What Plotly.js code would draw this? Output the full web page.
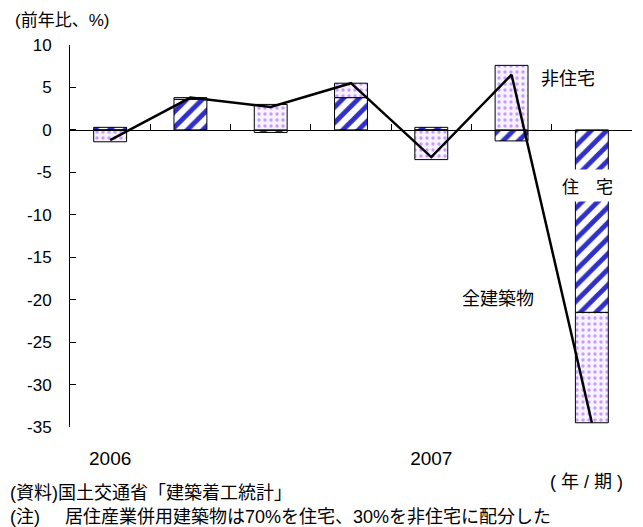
<!DOCTYPE html>
<html>
<head>
<meta charset="utf-8">
<script src="https://cdn.plot.ly/plotly-3.0.1.min.js"></script>
<style>
  html, body { margin: 0; padding: 0; background: #fff; }
  #chart { width: 643px; height: 527px; }
</style>
</head>
<body>
<div id="chart"></div>
<script>
// Quarterly periods (year / quarter)
const periods = ['2006年1期', '2006年2期', '2006年3期', '2006年4期', '2007年1期', '2007年2期', '2007年3期'];

// Contribution to year-on-year change (%), by building type
const housing    = [0.3, 3.6, -0.3, 3.8, 0.3, -1.3, -21.5];
const nonHousing = [-1.4, 0.2, 3.0, 1.7, -3.5, 7.6, -13.0];
// All buildings, year-on-year change (%)
const allBuildings = [-1.2, 3.8, 2.7, 5.5, -3.2, 6.5, -34.5];

// Axis labels
const yTickVals = [10, 5, 0, -5, -10, -15, -20, -25, -30, -35];
const yTickText = ['10', '5', '0', '-5', '-10', '-15', '-20', '-25', '-30', '-35'];
const yearTickVals = [periods[0], periods[4]];
const yearTickText = ['2006', '2007'];

const FONT = 'Liberation Sans, Arial, Noto Sans CJK JP, sans-serif';
const yMin = -35, yMax = 10;
const NB = '\u00a0';

const traces = [
  {
    type: 'bar', name: '住宅', x: periods, y: housing,
    xaxis: 'x', yaxis: 'y',
    marker: {
      color: '#ffffff',
      line: { color: '#000000', width: 1 },
      pattern: { shape: '/', fgcolor: '#3030c8', bgcolor: '#ffffff', size: 11, solidity: 0.45 }
    },
    hoverinfo: 'skip'
  },
  {
    type: 'bar', name: '非住宅', x: periods, y: nonHousing,
    xaxis: 'x', yaxis: 'y',
    marker: {
      color: '#f7f2ff',
      line: { color: '#000000', width: 1 },
      pattern: { shape: '.', fgcolor: '#c79cff', bgcolor: '#f7f2ff', size: 6, solidity: 0.25 }
    },
    hoverinfo: 'skip'
  },
  {
    type: 'scatter', mode: 'lines', name: '全建築物', x: periods, y: allBuildings,
    xaxis: 'x2', yaxis: 'y',
    line: { color: '#000000', width: 2.5 },
    hoverinfo: 'skip'
  }
];

const layout = {
  width: 643, height: 527,
  margin: { l: 70, r: 11, t: 45, b: 100 },
  paper_bgcolor: '#ffffff', plot_bgcolor: '#ffffff',
  showlegend: false,
  barmode: 'relative',
  bargap: 0.59,
  font: { family: FONT, size: 16, color: '#000000' },
  xaxis: {
    type: 'category', categoryarray: periods, categoryorder: 'array',
    range: [-0.5, periods.length - 0.5],
    showline: false, showgrid: false, zeroline: false,
    tickmode: 'array', tickvals: yearTickVals, ticktext: yearTickText,
    ticks: 'outside', ticklen: 14, tickcolor: 'rgba(0,0,0,0)',
    tickfont: { family: FONT, size: 19, color: '#000000' }
  },
  // axis line drawn along y = 0 with ticks on the quarter boundaries
  xaxis2: {
    type: 'category', categoryarray: periods, categoryorder: 'array',
    overlaying: 'x', anchor: 'free',
    position: (0 - yMin) / (yMax - yMin),
    range: [-0.5, periods.length - 0.5],
    showline: true, linecolor: '#000000', linewidth: 1,
    showgrid: false, zeroline: false,
    tickmode: 'linear', tick0: 0, dtick: 1,
    tickson: 'boundaries', ticks: 'inside', ticklen: 6, tickcolor: '#000000', tickwidth: 1,
    showticklabels: false
  },
  yaxis: {
    range: [yMin, yMax],
    showline: true, linecolor: '#000000', linewidth: 1,
    showgrid: false, zeroline: false,
    tickmode: 'array', tickvals: yTickVals, ticktext: yTickText,
    ticks: 'inside', ticklen: 6, tickcolor: '#000000', tickwidth: 1,
    ticklabelstandoff: 14,
    tickfont: { family: FONT, size: 17, color: '#000000' }
  },
  annotations: [
    { text: '非住宅', xref: 'x', yref: 'y', x: periods[6], y: 6.25, xshift: -24,
      showarrow: false, font: { family: 'Noto Sans CJK JP', size: 18, color: '#000' } },
    { text: '住　宅', xref: 'x', yref: 'y', x: periods[6], y: -6.5, xshift: -4,
      showarrow: false, bgcolor: '#ffffff', borderpad: 3,
      font: { family: 'Noto Sans CJK JP', size: 17, color: '#000' } },
    { text: '全建築物', xref: 'x', yref: 'y', x: periods[5], y: -19.7, xshift: -14,
      showarrow: false, font: { family: 'Noto Sans CJK JP', size: 18, color: '#000' } },
    { text: '(前年比、%)', xref: 'paper', yref: 'paper', x: -0.102, y: 1.065,
      xanchor: 'left', yanchor: 'middle', showarrow: false,
      font: { family: FONT, size: 17, color: '#000' } },
    { text: '(' + NB + '年' + NB + '/' + NB + '期' + NB + ')', xref: 'paper', yref: 'paper', x: 0.988, y: -0.144,
      xanchor: 'right', yanchor: 'middle', showarrow: false,
      font: { family: FONT, size: 18, color: '#000' } },
    { text: '(資料)国土交通省「建築着工統計」', xref: 'paper', yref: 'paper', x: -0.11, y: -0.174,
      xanchor: 'left', yanchor: 'middle', showarrow: false,
      font: { family: FONT, size: 18, color: '#000' } },
    { text: '(注)' + NB.repeat(5) + '居住産業併用建築物は70%を住宅、30%を非住宅に配分した', xref: 'paper', yref: 'paper', x: -0.11, y: -0.236,
      xanchor: 'left', yanchor: 'middle', showarrow: false,
      font: { family: FONT, size: 18, color: '#000' } }
  ]
};

Plotly.newPlot('chart', traces, layout, { staticPlot: true, displayModeBar: false });
</script>
</body>
</html>
